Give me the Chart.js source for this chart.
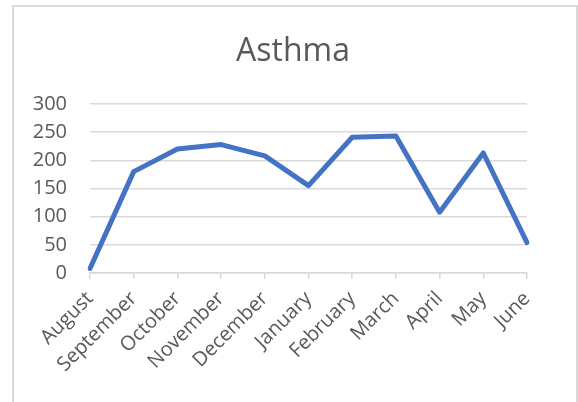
<!DOCTYPE html>
<html>
<head>
<meta charset="utf-8">
<script src="https://cdn.jsdelivr.net/npm/chart.js@4/dist/chart.umd.min.js"></script>
<style>
    html, body { margin: 0; padding: 0; background: #fff; }
    #wrap { position: relative; width: 578px; height: 402px; overflow: hidden; }
    #frame {
        position: absolute; left: 12px; top: 5px; width: 566px; height: 420px;
        border: 2px solid #d9d9d9; box-sizing: border-box;
    }
    #chart { position: absolute; left: 0; top: 0; }
</style>
</head>
<body>
<div id="wrap">
    <div id="frame"></div>
    <canvas id="chart" width="578" height="402"></canvas>
</div>
<script>
const months = ["August", "September", "October", "November", "December", "January",
    "February", "March", "April", "May", "June"];
const asthmaCases = [8, 180, 220, 228, 208, 155, 241, 243, 108, 213, 54];
const yTicks = [0, 50, 100, 150, 200, 250, 300];

const grey = "#595959";
const gridGrey = "#d9d9d9";
const labelFont = { family: "'Open Sans', sans-serif", size: 20 };

const chart = new Chart(document.getElementById("chart"), {
    type: "line",
    data: {
        labels: months,
        datasets: [
            {
                label: "Asthma",
                data: asthmaCases,
                borderColor: "#4472C4",
                borderWidth: 5,
                pointRadius: 0,
                tension: 0,
                borderJoinStyle: "round",
                borderCapStyle: "round",
            },
        ],
    },
    options: {
        responsive: false,
        animation: false,
        layout: {
            padding: { left: 8, right: 0, top: 0, bottom: 0 },
        },
        plugins: {
            legend: { display: false },
            tooltip: { enabled: false },
            title: {
                display: true,
                text: "Asthma",
                color: grey,
                font: { family: "'Open Sans', sans-serif", size: 32, weight: "normal", lineHeight: 1.2 },
                padding: { top: 33, bottom: 32.6 },
            },
        },
        scales: {
            x: {
                offset: false,
                grid: {
                    drawOnChartArea: false,
                    drawTicks: true,
                    tickLength: 6,
                    color: gridGrey,
                    lineWidth: 1.5,
                },
                border: { display: true, color: gridGrey, width: 1.5 },
                ticks: {
                    color: grey,
                    font: labelFont,
                    maxRotation: 45,
                    minRotation: 45,
                    padding: 8,
                    autoSkip: false,
                },
                afterFit: (scale) => { scale.height = 129; },
            },
            y: {
                min: yTicks[0],
                max: yTicks[yTicks.length - 1],
                grid: {
                    drawTicks: false,
                    color: gridGrey,
                    lineWidth: 1.5,
                },
                border: { display: false },
                ticks: {
                    stepSize: 50,
                    color: grey,
                    font: labelFont,
                    padding: 23,
                },
                afterFit: (scale) => { scale.width = 82; },
            },
            // empty right axis, only keeps the plot clear of the right edge
            spacer: {
                type: "linear",
                position: "right",
                display: true,
                grid: { display: false },
                border: { display: false },
                ticks: { display: false },
                afterFit: (scale) => { scale.width = 51; },
            },
        },
    },
});
</script>
</body>
</html>
